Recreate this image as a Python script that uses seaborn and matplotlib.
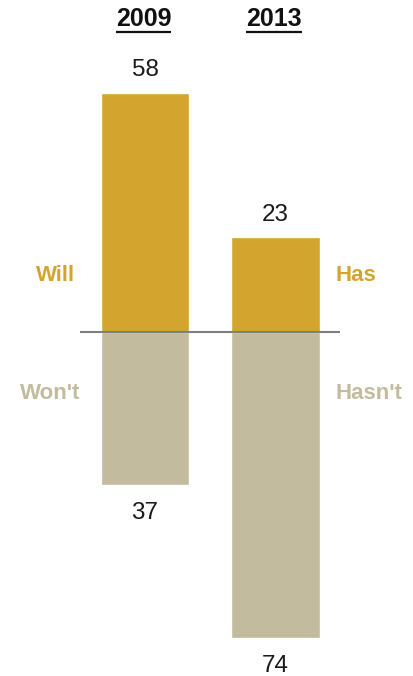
import matplotlib
matplotlib.use("Agg")
import matplotlib.pyplot as plt
import seaborn as sns
import pandas as pd

# Survey shares by year
years = ["2009", "2013"]
yes_values = [58, 23]
no_values = [37, 74]
yes_labels = ["Will", "Has"]
no_labels = ["Won't", "Hasn't"]

GOLD = "#D3A52F"
TAN = "#C2BB9D"

sns.set_theme(style="white")
plt.rcParams["font.family"] = ["Liberation Sans", "DejaVu Sans"]

fig = plt.figure(figsize=(4.13, 6.76), dpi=100)
ax = fig.add_axes([0, 0, 1, 1])

df = pd.DataFrame({"year": years, "yes": yes_values,
                   "no": [-v for v in no_values]})

sns.barplot(data=df, x="year", y="yes", color=GOLD, width=0.68,
            saturation=1, ax=ax)
sns.barplot(data=df, x="year", y="no", color=TAN, width=0.68,
            saturation=1, ax=ax)

ax.set_xlim(-1.111, 2.054)
ax.set_ylim(-83.2, 80.5)
ax.axis("off")

# zero line
ax.plot([-0.498, 1.494], [0, 0], color="#7F7F7F", lw=1.5, zorder=5,
        solid_capstyle="butt")

# value labels
for i, (y, n) in enumerate(zip(yes_values, no_values)):
    ax.text(i, y + 5.5, f"{y}", ha="center", va="center", fontsize=17.5,
            color="#1a1a1a")
    ax.text(i, -n - 6.8, f"{n}", ha="center", va="center", fontsize=17.5,
            color="#1a1a1a")

# side labels
ax.text(-0.682, 13.9, yes_labels[0], ha="center", va="center", fontsize=16,
        fontweight="bold", color=GOLD)
ax.text(-0.728, -14.7, no_labels[0], ha="center", va="center", fontsize=16,
        fontweight="bold", color=TAN)
ax.text(1.613, 13.9, yes_labels[1], ha="center", va="center", fontsize=16,
        fontweight="bold", color=GOLD)
ax.text(1.716, -14.7, no_labels[1], ha="center", va="center", fontsize=16,
        fontweight="bold", color=TAN)

# underlined year headers
headers = []
for i, yr in enumerate(years):
    t = ax.text(i - 0.01, 75.9, yr, ha="center", va="center", fontsize=18,
                fontweight="bold", color="#111111")
    headers.append(t)

fig.canvas.draw()
renderer = fig.canvas.get_renderer()
inv = ax.transData.inverted()
for t in headers:
    bb = t.get_window_extent(renderer)
    x0, _ = inv.transform((bb.x0, 0))
    x1, _ = inv.transform((bb.x1, 0))
    ax.plot([x0, x1], [72.8, 72.8], color="#111111", lw=1.6,
            solid_capstyle="butt")

fig.savefig("out.png", dpi=100)
